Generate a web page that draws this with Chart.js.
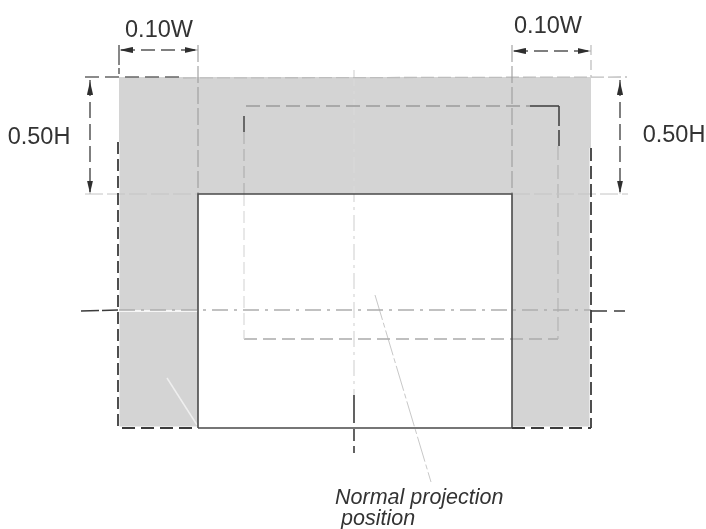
<!DOCTYPE html>
<html><head><meta charset="utf-8">
<script src="https://cdn.jsdelivr.net/npm/chart.js@4"></script>
<style>html,body{margin:0;padding:0;background:#fff}canvas{display:block}</style>
</head><body><canvas id="c" width="706" height="529"></canvas>
<script>
// Diagram values, in diagram units
const grayTop = [[119,77],[591,77]];
const grayBottom = 428;
const whiteTop = [[198,194],[512,194]];
const whiteBottom = 428;

const whiteLeftEdge = [[118,142],[118,428]];
const whiteRightEdge = [[591,148],[591,428]];
const whiteBottomLeft = [[119,428],[198,428]];
const whiteBottomRight = [[512,428],[591,428]];
const whiteCentreLeft = [[119,311],[198,311]];
const whiteStroke = [[167,378],[197,425]];

const rectBorder = [[198,428],[198,194],[512,194],[512,428],[198,428]];

const darkLeftEdge = [[118,142],[118,428]];
const darkRightEdge = [[591,148],[591,428]];
const darkBottomLeft = [[122,428],[198,428]];
const darkBottomRight = [[512,428],[591,428]];
const darkLeftExt = [[119,45],[119,74]];
const darkTopLeft = [[85,77],[183,77]];
const lightTop = [[183,78],[627,77]];
const lightRightExt = [[591,45],[591,77]];
const ext1Top = [[198,45],[198,194]];
const ext2Top = [[512,45],[512,194]];
const extH1 = [[85,194],[198,194]];
const extH2 = [[512,194],[628,194]];

const dimW1 = [[121,50],[196,50]];
const dimW2 = [[514,51],[589,51]];
const dimH1 = [[90,80],[90,192]];
const dimH2 = [[620,80],[620,192]];

const arrowsRight = [[191,50],[584,51]];
const arrowsLeft = [[126,50],[519,51]];
const arrowsUp = [[90,88],[620,88]];
const arrowsDown = [[90,187],[620,187]];

const innerTopGray = [[246,106],[530,106]];
const innerTopDark = [[530,106],[559,106]];
const innerRightDark = [[559,106],[559,146]];
const innerRightGray = [[558,146],[558,339]];
const innerBottom = [[244,339],[558,339]];
const innerLeftDark = [[244,116],[244,132]];
const innerLeftGray = [[244,132],[244,194]];
const innerLeftPale = [[244,194],[244,339]];

const centreHLeftDark = [[81,311],[118,310]];
const centreHMid = [[119,310],[591,310]];
const centreHRightDark = [[591,311],[625,311]];
const centreVPale = [[354,70],[354,395]];
const centreVDark = [[354,395],[354,453]];
const leader = [[375,295],[431,482]];

const labelTexts = ['0.10W','0.10W','0.50H','0.50H','Normal projection','position'];
const labelX = [159,548,39,674,335,341];
const labelY = [31,27,138,136,498,519];
const labelItalic = [false,false,false,false,true,true];

const DARK='#3c3c3c', PALE='#d9d9d9';
const head=document.createElement('canvas');
head.width=6;head.height=13;
const hc=head.getContext('2d');
hc.fillStyle='#2e2e2e';hc.beginPath();hc.moveTo(3,0);hc.lineTo(6,13);hc.lineTo(0,13);hc.closePath();hc.fill();

const seg=(data,color,width,dash,order)=>({type:'scatter',showLine:true,data:data.map(p=>({x:p[0],y:p[1]})),
  borderColor:color,borderWidth:width,borderDash:dash||[],pointRadius:0,fill:false,order:order,tension:0});
const area=(data,color,base,order)=>({type:'scatter',showLine:true,data:data.map(p=>({x:p[0],y:p[1]})),
  borderWidth:0,borderColor:color,backgroundColor:color,pointRadius:0,fill:{value:base},order:order});
const arrow=(data,rot)=>({type:'scatter',data:data.map(p=>({x:p[0],y:p[1]})),pointStyle:head,pointRadius:7,
  pointRotation:rot,backgroundColor:'#2e2e2e',borderColor:'#2e2e2e',borderWidth:0,order:1});

const datasets=[
  area(grayTop,'#d4d4d4',grayBottom,100),
  area(whiteTop,'#ffffff',whiteBottom,99),
  seg(whiteLeftEdge,'#ffffff',3,[],90),
  seg(whiteRightEdge,'#ffffff',3,[],90),
  seg(whiteBottomLeft,'#ffffff',3,[],90),
  seg(whiteBottomRight,'#ffffff',3,[],90),
  seg(whiteCentreLeft,'#f6f6f6',2,[],90),
  seg(whiteStroke,'#efefef',1.5,[],90),
  seg(innerLeftPale,PALE,1.2,[12,5],80),
  seg(innerLeftGray,'#b0b0b0',1.2,[12,5],80),
  seg(innerTopGray,'#9a9a9a',1.3,[14,6],80),
  seg(innerRightGray,'#b4b4b4',1.2,[14,5],80),
  seg(innerBottom,'#aaaaaa',1.5,[13,6],80),
  seg(centreVPale,PALE,1.3,[16,5,3,5],80),
  seg(leader,'#c8c8c8',1,[26,3,5,3],80),
  seg(ext1Top,'#9c9c9c',1.1,[17,4],70),
  seg(ext2Top,'#9c9c9c',1.1,[17,4],70),
  seg(extH1,'#c4c4c4',1,[18,4],70),
  seg(extH2,'#c4c4c4',1,[18,4],70),
  seg(lightTop,'#bdbdbd',1.3,[13,4],70),
  seg(lightRightExt,'#b4b4b4',1.1,[10,5],70),
  seg(centreHMid,'#adadad',1.3,[16,6,3,6],60),
  seg(rectBorder,'#4a4a4a',1.6,[],50),
  seg(darkLeftEdge,DARK,1.8,[12,5],40),
  seg(darkRightEdge,DARK,1.8,[13,5],40),
  seg(darkBottomLeft,DARK,1.8,[13,6],40),
  seg(darkBottomRight,DARK,1.8,[13,6],40),
  seg(darkLeftExt,'#555555',1.4,[20,3],40),
  seg(darkTopLeft,'#666666',1.6,[14,6],40),
  seg(dimW1,'#555555',1.4,[14,6],40),
  seg(dimW2,'#555555',1.4,[14,6],40),
  seg(dimH1,'#555555',1.5,[16,6],40),
  seg(dimH2,'#555555',1.5,[16,6],40),
  seg(innerTopDark,'#3c3c3c',1.5,[],40),
  seg(innerRightDark,'#444444',1.6,[20,4],40),
  seg(innerLeftDark,'#444444',1.5,[],40),
  seg(centreHLeftDark,DARK,1.6,[18,3],40),
  seg(centreHRightDark,DARK,1.6,[16,7],40),
  seg(centreVDark,DARK,1.6,[28,6,12,5],40),
  arrow(arrowsRight,90),
  arrow(arrowsLeft,270),
  arrow(arrowsUp,0),
  arrow(arrowsDown,180)
];

const labelPlugin={id:'labels',afterDatasetsDraw(chart){
  const {ctx,scales:{x,y}}=chart;
  ctx.save();ctx.fillStyle='#333333';ctx.textBaseline='middle';
  labelTexts.forEach((t,i)=>{
    ctx.font=(labelItalic[i]?'italic 21.5px':'23.5px')+' "Liberation Sans"';
    ctx.textAlign=labelItalic[i]?'left':'center';
    ctx.fillText(t,x.getPixelForValue(labelX[i]),y.getPixelForValue(labelY[i]));
  });
  ctx.restore();
}};

new Chart(document.getElementById('c'),{
  type:'scatter',
  data:{datasets},
  plugins:[labelPlugin],
  options:{
    responsive:false,animation:false,
    layout:{padding:0,autoPadding:false},
    plugins:{legend:{display:false},tooltip:{enabled:false},title:{display:false}},
    events:[],
    scales:{
      x:{type:'linear',min:0,max:706,display:false},
      y:{type:'linear',min:0,max:529,reverse:true,display:false}
    }
  }
});
</script></body></html>
